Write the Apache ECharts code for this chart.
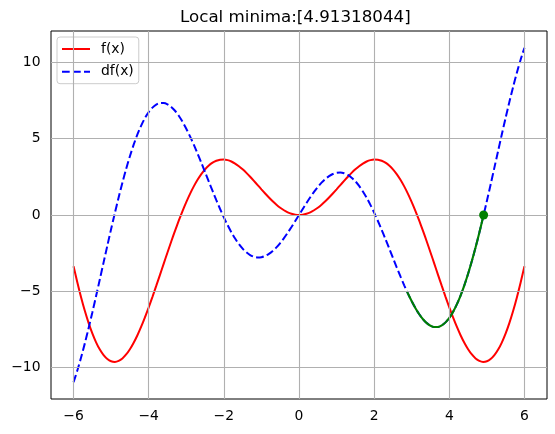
<!DOCTYPE html>
<html>
<head>
<meta charset="utf-8">
<script src="https://cdn.jsdelivr.net/npm/echarts@6/dist/echarts.min.js"></script>
<style>html,body{margin:0;padding:0;background:#fff}#c{width:555px;height:434px}</style>
</head>
<body>
<div id="c"></div>
<script>
var titleText = 'Local minima:[4.91318044]';
var xs = [-6.0,-5.9,-5.8,-5.7,-5.6,-5.5,-5.4,-5.3,-5.2,-5.1,-5.0,-4.9,-4.8,-4.7,-4.6,-4.5,-4.4,-4.3,-4.2,-4.1,
  -4.0,-3.9,-3.8,-3.7,-3.6,-3.5,-3.4,-3.3,-3.2,-3.1,-3.0,-2.9,-2.8,-2.7,-2.6,-2.5,-2.4,-2.3,-2.2,-2.1,
  -2.0,-1.9,-1.8,-1.7,-1.6,-1.5,-1.4,-1.3,-1.2,-1.1,-1.0,-0.9,-0.8,-0.7,-0.6,-0.5,-0.4,-0.3,-0.2,-0.1,
  0,
  0.1,0.2,0.3,0.4,0.5,0.6,0.7,0.8,0.9,1.0,1.1,1.2,1.3,1.4,1.5,1.6,1.7,1.8,1.9,2.0,
  2.1,2.2,2.3,2.4,2.5,2.6,2.7,2.8,2.9,3.0,3.1,3.2,3.3,3.4,3.5,3.6,3.7,3.8,3.9,4.0,
  4.1,4.2,4.3,4.4,4.5,4.6,4.7,4.8,4.9,5.0,5.1,5.2,5.3,5.4,5.5,5.6,5.7,5.8,5.9,6.0];
var fVals = [-3.353,-4.412,-5.389,-6.278,-7.070,-7.761,-8.346,-8.822,-9.188,-9.443,-9.589,-9.628,-9.563,-9.399,-9.142,-8.798,-8.374,-7.879,-7.321,-6.710,
  -6.054,-5.365,-4.650,-3.921,-3.186,-2.456,-1.738,-1.041,-0.374,0.258,0.847,1.388,1.876,2.308,2.681,2.992,3.242,3.430,3.557,3.626,
  3.637,3.596,3.506,3.372,3.199,2.993,2.759,2.505,2.237,1.961,1.683,1.410,1.148,0.902,0.678,0.479,0.312,0.177,0.080,0.020,
  0,
  0.020,0.080,0.177,0.312,0.479,0.678,0.902,1.148,1.410,1.683,1.961,2.237,2.505,2.759,2.993,3.199,3.372,3.506,3.596,3.637,
  3.626,3.557,3.430,3.242,2.992,2.681,2.308,1.876,1.388,0.847,0.258,-0.374,-1.041,-1.738,-2.456,-3.186,-3.921,-4.650,-5.365,-6.054,
  -6.710,-7.321,-7.879,-8.374,-8.798,-9.142,-9.399,-9.563,-9.628,-9.589,-9.443,-9.188,-8.822,-8.346,-7.761,-7.070,-6.278,-5.389,-4.412,-3.353];
var dfVals = [-10.963,-10.197,-9.343,-8.414,-7.424,-6.384,-5.309,-4.212,-3.106,-2.004,-0.919,0.137,1.152,2.116,3.019,3.852,4.608,5.279,5.861,6.350,
  6.743,7.038,7.235,7.336,7.342,7.257,7.085,6.833,6.506,6.112,5.658,5.153,4.607,4.027,3.425,2.809,2.189,1.574,0.972,0.394,
  -0.154,-0.664,-1.130,-1.545,-1.906,-2.207,-2.447,-2.623,-2.734,-2.780,-2.764,-2.686,-2.550,-2.359,-2.120,-1.836,-1.516,-1.164,-0.789,-0.399,
  0,
  0.399,0.789,1.164,1.516,1.836,2.120,2.359,2.550,2.686,2.764,2.780,2.734,2.623,2.447,2.207,1.906,1.545,1.130,0.664,0.154,
  -0.394,-0.972,-1.574,-2.189,-2.809,-3.425,-4.027,-4.607,-5.153,-5.658,-6.112,-6.506,-6.833,-7.085,-7.257,-7.342,-7.336,-7.235,-7.038,-6.743,
  -6.350,-5.861,-5.279,-4.608,-3.852,-3.019,-2.116,-1.152,-0.137,0.919,2.004,3.106,4.212,5.309,6.384,7.424,8.414,9.343,10.197,10.963];
var greenX = [2.87,2.9,3.0,3.1,3.2,3.3,3.4,3.5,3.6,3.7,3.8,3.9,4.0,4.1,4.2,4.3,4.4,4.5,4.6,4.7,4.8,4.9,4.913];
var greenY = [-4.993,-5.153,-5.658,-6.112,-6.506,-6.833,-7.085,-7.257,-7.342,-7.336,-7.235,-7.038,-6.743,-6.350,-5.861,-5.279,-4.608,-3.852,-3.019,-2.116,-1.152,-0.137,0];
var minX = [4.91318044];
var minY = [0];
var xTicks = [-6,-4,-2,0,2,4,6];
var yTicks = [-10,-5,0,5,10];

function pairs(a,b){var r=[];for(var i=0;i<a.length;i++)r.push([a[i],b[i]]);return r;}
function fmt(v){return String(v).replace('-','\u2212');}
var FONT = 'DejaVu Sans';
var chart = echarts.init(document.getElementById('c'));
chart.setOption({
  animation:false,
  backgroundColor:'#fff',
  title:{text:titleText,left:180,top:9,padding:0,textStyle:{fontFamily:FONT,fontSize:16.7,fontWeight:'normal',color:'#000'}},
  legend:{data:['f(x)','df(x)'],orient:'vertical',left:57,top:37,itemWidth:28,itemHeight:14,itemGap:8.7,
    padding:[5,5,5,4],borderColor:'#cccccc',borderWidth:1,borderRadius:3,backgroundColor:'rgba(255,255,255,0.8)',
    itemStyle:{opacity:0},
    textStyle:{fontFamily:FONT,fontSize:13.9,color:'#000',padding:[0,0,0,6]}},
  grid:{left:51,right:8,top:31,bottom:35,show:true,borderColor:'#000',borderWidth:1,backgroundColor:'transparent'},
  xAxis:{type:'value',min:-6.6,max:6.6,axisLine:{show:false},splitLine:{show:false},
    axisTick:{show:true,length:4.9,lineStyle:{color:'#000',width:1},customValues:xTicks},
    axisLabel:{customValues:xTicks,formatter:fmt,margin:10.5,fontFamily:FONT,fontSize:13.9,color:'#000'}},
  yAxis:{type:'value',min:-12.06,max:12.06,axisLine:{show:false},splitLine:{show:false},
    axisTick:{show:true,length:4.9,lineStyle:{color:'#000',width:1},customValues:yTicks},
    axisLabel:{customValues:yTicks,formatter:fmt,margin:10.5,fontFamily:FONT,fontSize:13.9,color:'#000'}},
  series:[
    {type:'line',name:'grid',data:[],z:1,silent:true,
     markLine:{silent:true,symbol:'none',label:{show:false},animation:false,
       lineStyle:{color:'#b0b0b0',width:1.1,type:'solid'},
       data:xTicks.map(function(v){return {xAxis:v};}).concat(yTicks.map(function(v){return {yAxis:v};}))}},
    {type:'line',name:'f(x)',data:pairs(xs,fVals),smooth:0.3,symbol:'none',z:3,
     lineStyle:{color:'#ff0000',width:2},itemStyle:{color:'#ff0000'}},
    {type:'line',name:'df(x)',data:pairs(xs,dfVals),smooth:0.3,symbol:'none',z:3,
     lineStyle:{color:'#0000ff',width:2,type:[7.7,3.3]},itemStyle:{color:'#0000ff'}},
    {type:'line',name:'path',data:pairs(greenX,greenY),smooth:0.3,symbol:'none',z:4,
     lineStyle:{color:'#008000',width:2.1},itemStyle:{color:'#008000'}},
    {type:'scatter',name:'min',data:pairs(minX,minY),symbol:'circle',symbolSize:9,z:5,
     itemStyle:{color:'#008000',opacity:1}}
  ]
});
</script>
</body>
</html>
